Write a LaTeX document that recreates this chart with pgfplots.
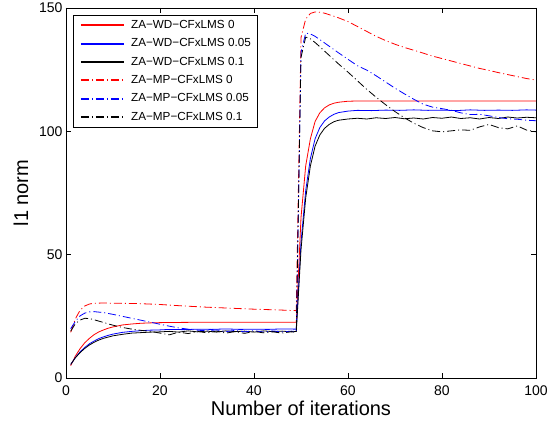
\documentclass[border=0pt]{standalone}
\usepackage{fontspec}
\setmainfont{Liberation Sans}
\usepackage{pgfplots}
\pgfplotsset{compat=1.18}
\begin{document}
\begin{tikzpicture}
\begin{axis}[
  scale only axis,
  width=470pt, height=370pt,
  xmin=0, xmax=100, ymin=0, ymax=150,
  xtick={0,20,40,60,80,100},
  ytick={0,50,100,150},
  tick align=inside,
  xtick pos=both, ytick pos=both,
  xticklabel pos=lower, yticklabel pos=left,
  major tick length=5pt,
  axis line style={line width=0.7pt},
  every tick/.style={black, line width=0.7pt},
  /pgf/number format/assume math mode=true,
  tick label style={font=\fontsize{14}{16}\selectfont},
  xticklabel style={yshift=-4.3pt},
  xlabel={Number of iterations},
  ylabel={l1 norm},
  label style={font=\fontsize{20}{22}\selectfont},
  xlabel style={at={(axis description cs:0.5,-0.1027)}, anchor=base},
  ylabel style={at={(axis description cs:-0.0957,0.5)}, anchor=center},
  legend style={
    at={(rel axis cs:0.0143,0.981)}, anchor=north west,
    line width=0.7pt,
    inner xsep=6.7pt, inner ysep=4.5pt,
    font=\fontsize{11.7}{13}\selectfont,
    nodes={inner sep=0pt, text height=8.5pt, text depth=2.5pt},
    row sep=7.33pt,
    /tikz/every odd column/.append style={column sep=6.4pt},
  },
  legend cell align=left,
  legend image code/.code={\draw[#1, line width=2pt] plot coordinates {(2.3pt,0pt) (23.8pt,0pt) (45.3pt,0pt)};},
  every axis plot/.append style={line width=0.8pt},
  ddot/.style={dash pattern=on 8pt off 3pt on 1pt off 3pt},
]
\addplot[color=red, solid] coordinates {(1,5.0)(2,8.9)(3,11.9)(4,14.3)(5,16.1)(6,17.6)(7,18.7)(8,19.5)(9,20.2)(10,20.7)(12,21.5)(14,21.9)(16,22.2)(18,22.35)(20,22.45)(25,22.55)(30,22.6)(49,22.6)(50,65)(51,86)(52,97)(53,104)(54,107.5)(55,109.5)(56,110.7)(57,111.4)(58,111.8)(60,112.2)(62,112.3)(100,112.3)};
\addlegendentry{ZA−WD−CFxLMS 0}
\addplot[color=blue, solid] coordinates {(1,5.5)(2,8.3)(3,10.6)(4,12.4)(5,13.9)(6,15.0)(7,16.0)(8,16.7)(9,17.3)(10,17.8)(12,18.5)(14,18.9)(16,19.2)(18,19.4)(20,19.5)(22,19.7)(25,19.6)(28,19.8)(31,19.7)(34,19.9)(37,19.7)(40,19.8)(43,19.7)(46,19.9)(49,19.8)(50,55)(51,76)(52,89)(53,97)(54,101.5)(55,104.2)(56,105.8)(57,106.9)(58,107.6)(60,108.2)(62,108.5)(65,108.4)(68,108.6)(71,108.5)(74,108.7)(77,108.5)(80,108.6)(83,108.4)(86,108.7)(89,108.5)(92,108.6)(95,108.5)(98,108.7)(100,108.6)};
\addlegendentry{ZA−WD−CFxLMS 0.05}
\addplot[color=black, solid] coordinates {(1,5.5)(2,8.2)(3,10.3)(4,12.0)(5,13.4)(6,14.5)(7,15.4)(8,16.1)(9,16.6)(10,17.1)(12,17.7)(14,18.2)(16,18.4)(18,18.6)(20,18.7)(22,18.9)(24,18.6)(26,19.1)(28,18.7)(30,19.0)(32,18.6)(34,19.1)(36,18.8)(38,19.0)(40,18.6)(42,19.1)(44,18.8)(46,19.0)(48,18.7)(49,18.9)(50,52)(51,73)(52,86)(53,94)(54,98.5)(55,101.2)(56,102.8)(57,103.9)(58,104.5)(60,105)(62,105.3)(64,105.0)(66,105.5)(68,105.2)(70,105.6)(72,105.1)(74,105.4)(76,105.0)(78,105.6)(80,105.3)(82,105.8)(84,105.2)(86,105.5)(88,105.0)(90,105.6)(92,105.2)(94,105.8)(96,105.4)(98,105.7)(100,105.5)};
\addlegendentry{ZA−WD−CFxLMS 0.1}
\addplot[color=red, ddot] coordinates {(1,18.5)(2,24)(3,27.5)(4,29.2)(5,30.0)(6,30.3)(8,30.4)(10,30.3)(15,30.2)(20,29.8)(25,29.2)(30,28.7)(35,28.3)(40,27.9)(45,27.6)(49,27.3)(50,138)(51,145.5)(52,147.8)(53,148.4)(54,148.3)(55,147.9)(56,147.3)(58,146)(60,144.5)(62,142.5)(64,140.5)(66,138.5)(68,136.8)(70,135.3)(72,134)(75,132.3)(78,130.5)(80,129.5)(82,128.5)(85,127)(88,125.5)(90,124.7)(92,123.8)(95,122.6)(98,121.4)(100,120.8)};
\addlegendentry{ZA−MP−CFxLMS 0}
\addplot[color=blue, ddot] coordinates {(1,20)(2,23)(3,25.2)(4,26.3)(5,26.8)(6,26.9)(8,26.5)(10,25.8)(12,25)(14,24.2)(16,23.4)(18,22.6)(20,21.8)(22,21)(24,20.3)(26,19.8)(28,19.4)(30,19.1)(32,19.5)(34,18.8)(36,19.3)(38,18.7)(40,19.2)(42,18.6)(44,19.1)(46,18.7)(48,19.0)(49,18.8)(50,132)(51,139.8)(52,139.5)(53,138.5)(54,137.2)(56,134.5)(58,131.8)(60,129.2)(62,126.6)(64,124.8)(66,122.5)(68,120)(70,117.5)(72,115.2)(74,113)(76,111)(78,109.8)(80,109.2)(82,108.5)(84,107.5)(86,106.8)(88,106.9)(90,106.3)(92,105.6)(94,105.1)(96,104.9)(98,104.5)(100,104.3)};
\addlegendentry{ZA−MP−CFxLMS 0.05}
\addplot[color=black, ddot] coordinates {(1,19)(2,22)(3,23.5)(4,24.2)(5,24.1)(6,23.6)(8,22.5)(10,21.4)(12,20.5)(14,19.8)(16,19.3)(18,18.9)(20,18.2)(22,17.5)(24,18.6)(26,18.0)(28,18.9)(30,18.3)(32,19.0)(34,18.2)(36,18.8)(38,18.1)(40,18.9)(42,18.3)(44,18.7)(46,18.2)(48,18.8)(49,18.4)(50,130)(51,138.2)(52,137.5)(53,136)(54,134.3)(56,130.8)(58,127.3)(60,124)(62,120.5)(64,117)(66,113.8)(68,110.8)(70,108)(72,105.5)(74,103.3)(76,101.5)(78,100.2)(80,99.8)(82,100.2)(84,100.6)(86,100.4)(88,101.8)(90,102.8)(92,101.5)(94,101)(96,102.2)(98,100.5)(100,99.8)};
\addlegendentry{ZA−MP−CFxLMS 0.1}
\coordinate (sw) at (rel axis cs:0,0);
\coordinate (ne) at (rel axis cs:1,1);
\end{axis}
\pgfresetboundingbox
\path ([xshift=-66pt,yshift=-45pt]sw) rectangle ([xshift=11pt,yshift=8pt]ne);
\end{tikzpicture}
\end{document}
